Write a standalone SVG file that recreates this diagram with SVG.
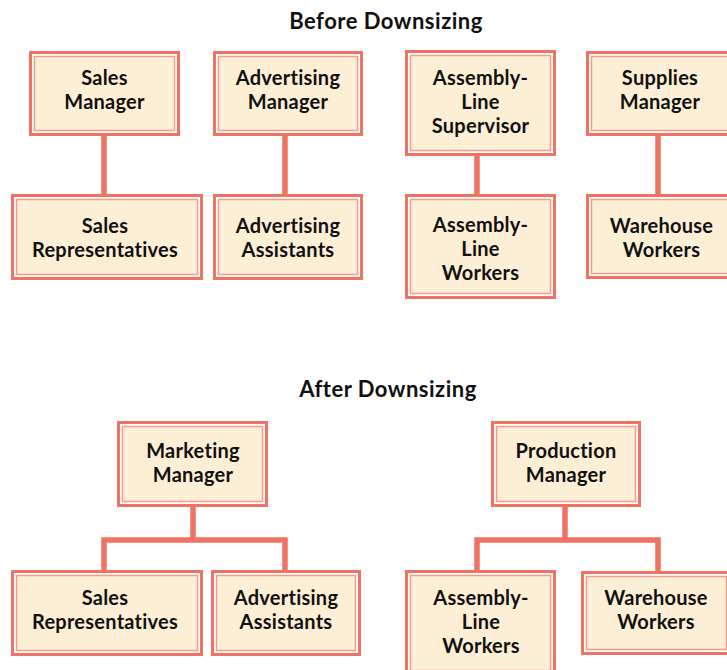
<svg xmlns="http://www.w3.org/2000/svg" width="727" height="670" viewBox="0 0 727 670">
<style>
.o{fill:#ffffff;stroke:#F07262;stroke-width:3}
.i{fill:#FDEFD5;stroke:#F29C8C;stroke-width:1.5}
.t{font-family:Lato,"Noto Sans","Liberation Sans",sans-serif;font-weight:bold;font-size:20px;letter-spacing:0.25px;font-variant-ligatures:none;fill:#111;text-anchor:middle}
.h{font-family:Lato,"Noto Sans","Liberation Sans",sans-serif;font-weight:bold;font-size:22px;letter-spacing:0.5px;font-variant-ligatures:none;fill:#111;text-anchor:middle}
.c{fill:none;stroke:#F07262;stroke-width:5.5;stroke-linejoin:miter}
</style>
<rect width="727" height="670" fill="#ffffff"/>
<text class="h" x="386" y="29">Before Downsizing</text>
<text class="h" x="388" y="397">After Downsizing</text>
<g id="connectors">
<path class="c" d="M104,136V194"/>
<path class="c" d="M285,136V194"/>
<path class="c" d="M477,156V194"/>
<path class="c" d="M658,136V194"/>
<path class="c" d="M193,507V540M104,571V540H285V571"/>
<path class="c" d="M565,507V540M477,571V540H658V571"/>
</g>
<g id="sales-manager"><rect class="o" x="30.5" y="52.5" width="148" height="82"/><rect class="i" x="34.5" y="56.5" width="140" height="74"/><text class="t" x="104.5" y="85">Sales</text><text class="t" x="104.5" y="109">Manager</text></g>
<g id="advertising-manager"><rect class="o" x="214.5" y="52.5" width="147" height="82"/><rect class="i" x="218.5" y="56.5" width="139" height="74"/><text class="t" x="288" y="85">Advertising</text><text class="t" x="288" y="109">Manager</text></g>
<g id="assembly-line-supervisor"><rect class="o" x="406.5" y="51.5" width="148" height="103"/><rect class="i" x="410.5" y="55.5" width="140" height="95"/><text class="t" x="480.5" y="85">Assembly-</text><text class="t" x="480.5" y="109">Line</text><text class="t" x="480.5" y="133">Supervisor</text></g>
<g id="supplies-manager"><rect class="o" x="587.5" y="52.5" width="148" height="82"/><rect class="i" x="591.5" y="56.5" width="140" height="74"/><text class="t" x="660" y="85">Supplies</text><text class="t" x="660" y="109">Manager</text></g>
<g id="sales-representatives-before"><rect class="o" x="12.5" y="195.5" width="189" height="83"/><rect class="i" x="16.5" y="199.5" width="181" height="75"/><text class="t" x="105" y="233">Sales</text><text class="t" x="105" y="257">Representatives</text></g>
<g id="advertising-assistants-before"><rect class="o" x="214.5" y="195.5" width="147" height="83"/><rect class="i" x="218.5" y="199.5" width="139" height="75"/><text class="t" x="288" y="233">Advertising</text><text class="t" x="288" y="257">Assistants</text></g>
<g id="assembly-line-workers-before"><rect class="o" x="406.5" y="195.5" width="148" height="102"/><rect class="i" x="410.5" y="199.5" width="140" height="94"/><text class="t" x="480.5" y="232">Assembly-</text><text class="t" x="480.5" y="256">Line</text><text class="t" x="480.5" y="280">Workers</text></g>
<g id="warehouse-workers-before"><rect class="o" x="587.5" y="195.5" width="148" height="82"/><rect class="i" x="591.5" y="199.5" width="140" height="74"/><text class="t" x="661.5" y="233">Warehouse</text><text class="t" x="661.5" y="257">Workers</text></g>
<g id="marketing-manager"><rect class="o" x="118.5" y="422.5" width="148" height="83"/><rect class="i" x="122.5" y="426.5" width="140" height="75"/><text class="t" x="193" y="458">Marketing</text><text class="t" x="193" y="482">Manager</text></g>
<g id="production-manager"><rect class="o" x="492.5" y="422.5" width="147" height="83"/><rect class="i" x="496.5" y="426.5" width="139" height="75"/><text class="t" x="566" y="458">Production</text><text class="t" x="566" y="482">Manager</text></g>
<g id="sales-representatives-after"><rect class="o" x="12.5" y="571.5" width="189" height="83"/><rect class="i" x="16.5" y="575.5" width="181" height="75"/><text class="t" x="105" y="605">Sales</text><text class="t" x="105" y="629">Representatives</text></g>
<g id="advertising-assistants-after"><rect class="o" x="212.5" y="571.5" width="147" height="83"/><rect class="i" x="216.5" y="575.5" width="139" height="75"/><text class="t" x="286" y="605">Advertising</text><text class="t" x="286" y="629">Assistants</text></g>
<g id="assembly-line-workers-after"><rect class="o" x="406.5" y="571.5" width="148" height="103"/><rect class="i" x="410.5" y="575.5" width="140" height="95"/><text class="t" x="481" y="605">Assembly-</text><text class="t" x="481" y="629">Line</text><text class="t" x="481" y="653">Workers</text></g>
<g id="warehouse-workers-after"><rect class="o" x="582.5" y="572.5" width="148" height="81"/><rect class="i" x="586.5" y="576.5" width="140" height="73"/><text class="t" x="656" y="605">Warehouse</text><text class="t" x="656" y="629">Workers</text></g>
</svg>
